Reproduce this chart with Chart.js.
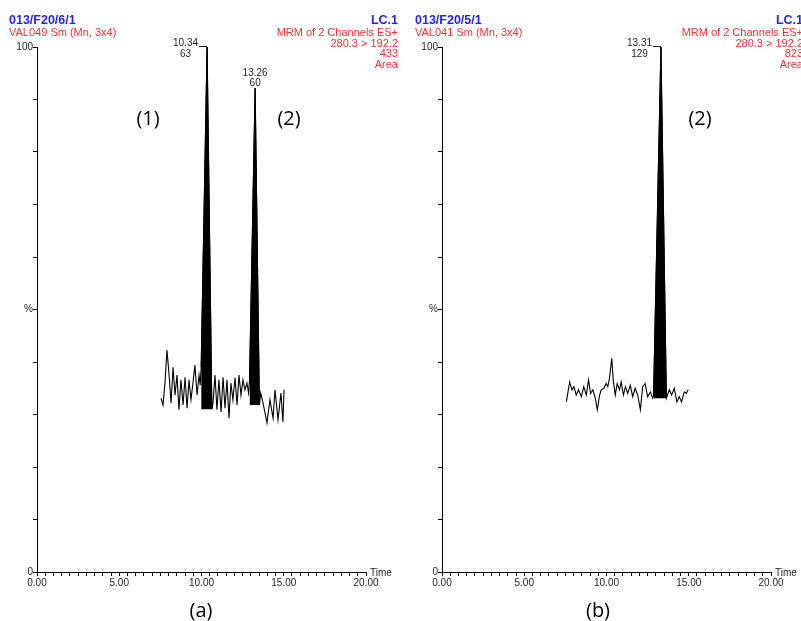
<!DOCTYPE html>
<html>
<head>
<meta charset="utf-8">
<script src="https://cdn.jsdelivr.net/npm/chart.js@4.4.0/dist/chart.umd.min.js"></script>
<style>
  html, body { margin: 0; padding: 0; width: 801px; height: 621px; overflow: hidden; background: #fff; }
  body { position: relative; font-family: "Liberation Sans", Arial, sans-serif; }
  .panel { position: absolute; top: 0; width: 400px; height: 621px; }
  .panel canvas { position: absolute; left: 0; top: 0; }
  .ttl { position: absolute; top: 13px; font-weight: bold; font-size: 12.5px; line-height: 14px; color: #2424e6; white-space: nowrap; }
  .sub { position: absolute; top: 26px; font-size: 11px; line-height: 12px; color: #f03434; white-space: nowrap; }
  .info { position: absolute; right: 2px; top: 13px; text-align: right; white-space: nowrap; }
  .info b { display: block; font-size: 12.5px; line-height: 14px; color: #2424e6; }
  .info span { display: block; font-size: 11px; line-height: 10.6px; color: #f03434; }
  .tag { position: absolute; font-family: "Open Sans", "Noto Sans", sans-serif; font-size: 20px; line-height: 24px; color: #000; transform: translate(-50%, -50%); white-space: nowrap; }
</style>
</head>
<body>
<div class="panel" id="pa" style="left:0">
  <canvas id="chartA" width="400" height="621"></canvas>
  <div class="ttl" style="left:9px">013/F20/6/1</div>
  <div class="sub" style="left:9px">VAL049 Sm (Mn, 3x4)</div>
  <div class="info"><b>LC.1</b><span>MRM of 2 Channels ES+</span><span>280.3 &gt; 192.2</span><span>433</span><span>Area</span></div>
  <div class="tag" style="left:148px;top:118px">(1)</div>
  <div class="tag" style="left:289px;top:118px">(2)</div>
  <div class="tag" style="left:201px;top:610px">(a)</div>
</div>
<div class="panel" id="pb" style="left:405px">
  <canvas id="chartB" width="400" height="621"></canvas>
  <div class="ttl" style="left:10px">013/F20/5/1</div>
  <div class="sub" style="left:10px">VAL041 Sm (Mn, 3x4)</div>
  <div class="info"><b>LC.1</b><span>MRM of 2 Channels ES+</span><span>280.3 &gt; 192.2</span><span>823</span><span>Area</span></div>
  <div class="tag" style="left:295px;top:118px">(2)</div>
  <div class="tag" style="left:193px;top:610px">(b)</div>
</div>
<script>
// panel (a) trace, time (min) and relative intensity (%)
const timeA = [7.54, 7.66, 7.78, 7.90, 8.02, 8.15, 8.27, 8.39, 8.51, 8.63, 8.75, 8.88, 9.00, 9.12, 9.24, 9.36, 9.48, 9.60, 9.73, 9.85, 9.92,
  9.98, 10.34, 10.63,
  10.70, 10.82, 10.94, 11.06, 11.19, 11.31, 11.43, 11.55, 11.67, 11.79, 11.91, 12.04, 12.16, 12.28, 12.40, 12.52, 12.64, 12.76, 12.86,
  12.92, 13.26, 13.52,
  13.60, 13.74, 13.98, 14.16, 14.35, 14.47, 14.65, 14.83, 14.95, 15.02];
const pctA = [33.1, 31.8, 36.0, 42.3, 37.9, 32.2, 39.0, 33.7, 37.5, 30.9, 36.6, 31.8, 37.1, 31.2, 36.6, 32.8, 36.0, 39.4, 33.7, 37.5, 35.6,
  39.0, 100, 31.0,
  32.2, 37.5, 30.9, 36.6, 30.5, 37.1, 31.2, 36.6, 29.3, 36.0, 32.8, 37.0, 31.8, 37.5, 33.7, 36.6, 34.7, 36.0, 34.1,
  36.5, 92.2, 31.8,
  34.1, 32.2, 28.4, 32.8, 29.3, 34.7, 29.0, 34.1, 28.6, 34.7];

// panel (a) integrated peaks
const peak1TimeA = [9.98, 10.34, 10.63];
const peak1PctA = [39.0, 100, 31.0];
const peak2TimeA = [12.92, 13.26, 13.52];
const peak2PctA = [36.5, 92.2, 31.8];
const peakRtA = [10.34, 13.26];
const peakTopA = [100, 92.2];
const peakAreaA = [63, 60];

// panel (b) trace
const timeB = [7.56, 7.76, 7.90, 8.02, 8.16, 8.30, 8.47, 8.62, 8.77, 8.91, 9.03, 9.17, 9.32, 9.44, 9.58, 9.68, 9.84, 9.98, 10.08, 10.18,
  10.32, 10.41, 10.53, 10.65, 10.79, 10.89, 11.03, 11.15, 11.29, 11.45, 11.59, 11.74, 11.90, 12.06, 12.20, 12.35, 12.50, 12.67, 12.81,
  12.86, 13.31, 13.64,
  13.82, 13.96, 14.12, 14.28, 14.42, 14.56, 14.73, 14.85, 14.97];
const pctB = [32.4, 36.2, 34.7, 35.3, 33.7, 34.7, 33.4, 35.3, 33.7, 36.6, 34.0, 34.7, 33.1, 30.9, 33.7, 34.7, 35.0, 35.9, 35.3, 36.9,
  40.7, 36.6, 33.7, 35.9, 34.7, 36.2, 33.7, 35.3, 34.0, 35.6, 33.4, 35.0, 33.7, 30.9, 35.3, 35.9, 33.4, 34.3, 33.1,
  33.5, 100, 33.1,
  34.7, 33.7, 35.0, 32.4, 33.4, 32.4, 34.3, 34.0, 34.7];

// panel (b) integrated peak
const peak1TimeB = [12.86, 13.31, 13.64];
const peak1PctB = [33.5, 100, 33.1];
const peakRtB = [13.31];
const peakTopB = [100];
const peakAreaB = [129];

const xLabelTicks = [0, 5, 10, 15, 20];
const yLabelTicks = { 100: '100', 50: '%', 0: '0' };

const FONT = '"Liberation Sans", Arial, sans-serif';
const INK = '#1e1e1e';

const toPoints = (xs, ys) => xs.map((x, i) => ({ x: x, y: ys[i] }));

const peakLabelPlugin = {
  id: 'peakLabels',
  afterDatasetsDraw(chart) {
    const opts = chart.options.plugins.peakLabels;
    const ctx = chart.ctx;
    const xs = chart.scales.x, ys = chart.scales.y;
    ctx.save();
    ctx.font = '10px ' + FONT;
    ctx.fillStyle = INK;
    ctx.strokeStyle = INK;
    ctx.lineWidth = 1;
    opts.rt.forEach((rt, i) => {
      const px = xs.getPixelForValue(rt);
      const py = ys.getPixelForValue(opts.top[i]);
      const t1 = rt.toFixed(2);
      const t2 = String(opts.area[i]);
      ctx.textBaseline = 'middle';
      if (opts.top[i] >= 99) {
        const w = ctx.measureText(t1).width;
        const right = Math.round(px) - 9;
        ctx.beginPath();
        ctx.moveTo(right + 1, Math.round(py) - 0.5);
        ctx.lineTo(Math.round(px), Math.round(py) - 0.5);
        ctx.stroke();
        ctx.textAlign = 'right';
        ctx.fillText(t1, right, py - 4);
        ctx.textAlign = 'center';
        ctx.fillText(t2, right - w / 2, py + 7);
      } else {
        ctx.textAlign = 'center';
        ctx.fillText(t1, px, py - 15);
        ctx.fillText(t2, px, py - 5);
      }
    });
    // axis name at the end of the time axis
    ctx.textAlign = 'left';
    ctx.textBaseline = 'middle';
    ctx.fillText('Time', chart.chartArea.right + 4, chart.chartArea.bottom + 1);
    ctx.restore();
  }
};

function makePanel(id, times, pcts, peaks, rt, top, area) {
  const datasets = [{
    data: toPoints(times, pcts),
    borderColor: '#000',
    borderWidth: 1.1,
    pointRadius: 0,
    fill: false,
    tension: 0
  }];
  peaks.forEach(p => {
    datasets.push({
      data: toPoints(p[0], p[1]),
      borderColor: '#000',
      borderWidth: 1,
      backgroundColor: '#000',
      pointRadius: 0,
      fill: { value: Math.min(p[1][0], p[1][p[1].length - 1]) },
      tension: 0
    });
  });

  return new Chart(document.getElementById(id), {
    type: 'line',
    data: { datasets: datasets },
    plugins: [peakLabelPlugin],
    options: {
      responsive: false,
      animation: false,
      devicePixelRatio: 1,
      clip: false,
      layout: { padding: { top: 47, right: 34, bottom: 0, left: 0 } },
      plugins: {
        legend: { display: false },
        tooltip: { enabled: false },
        peakLabels: { rt: rt, top: top, area: area }
      },
      scales: {
        x: {
          type: 'linear',
          min: 0,
          max: 20,
          afterFit: s => { s.height = 49; },
          border: { color: '#000', width: 1 },
          grid: { drawOnChartArea: false, drawTicks: true, tickLength: 4, color: '#000' },
          ticks: {
            stepSize: 0.5,
            autoSkip: false,
            maxRotation: 0,
            padding: 1,
            color: INK,
            font: { family: FONT, size: 10 },
            callback: v => (xLabelTicks.includes(v) ? v.toFixed(2) : '')
          }
        },
        y: {
          min: 0,
          max: 100,
          afterFit: s => { s.width = 37; },
          border: { color: '#000', width: 1 },
          grid: { drawOnChartArea: false, drawTicks: true, tickLength: 4, color: '#000' },
          ticks: {
            stepSize: 10,
            padding: 0,
            color: INK,
            font: { family: FONT, size: 10 },
            callback: v => (yLabelTicks[v] !== undefined ? yLabelTicks[v] : '')
          }
        }
      }
    }
  });
}

makePanel('chartA', timeA, pctA,
  [[peak1TimeA, peak1PctA], [peak2TimeA, peak2PctA]], peakRtA, peakTopA, peakAreaA);
makePanel('chartB', timeB, pctB,
  [[peak1TimeB, peak1PctB]], peakRtB, peakTopB, peakAreaB);
</script>
</body>
</html>
